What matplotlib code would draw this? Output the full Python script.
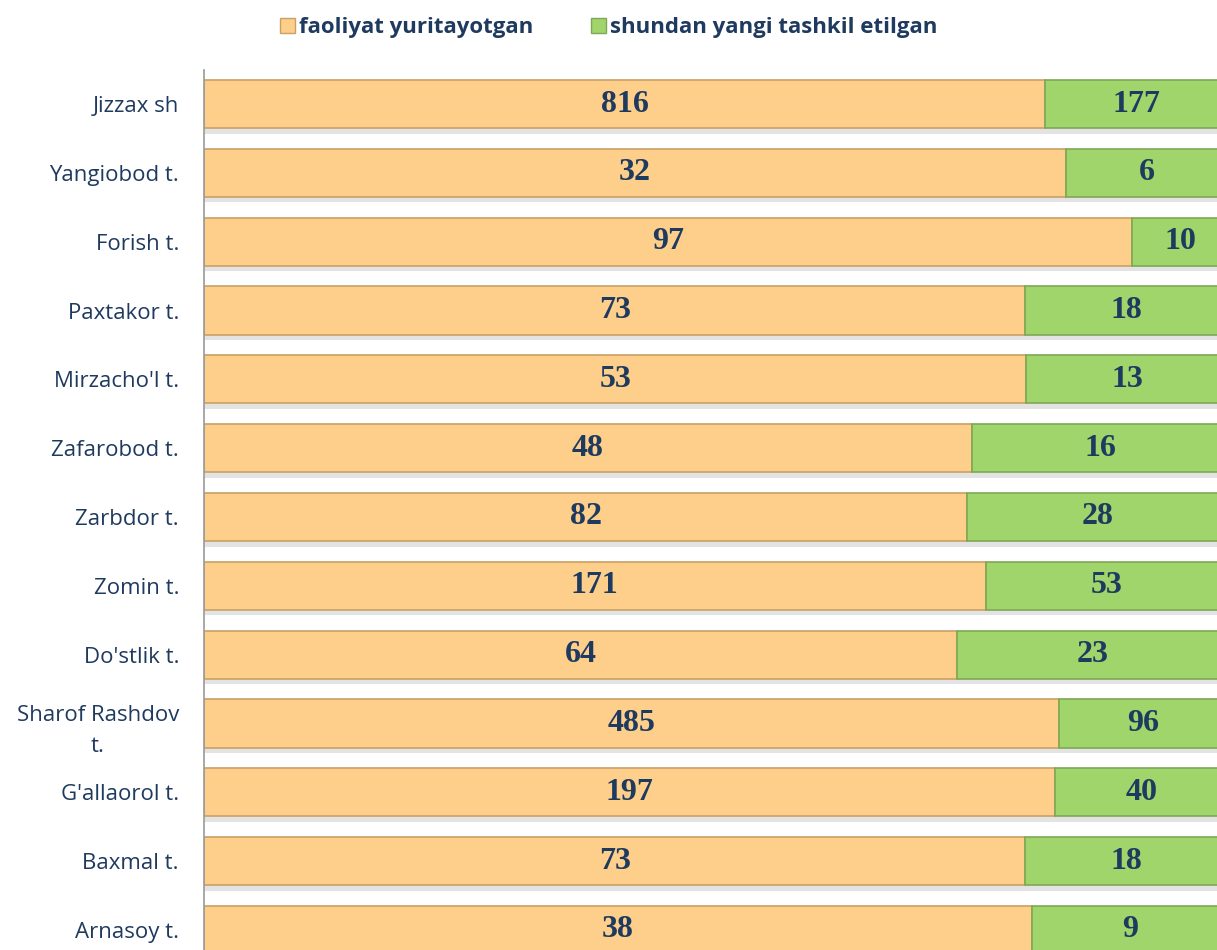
import matplotlib.pyplot as plt
import matplotlib.patheffects as pe
from matplotlib.patches import Patch

W, H = 1217, 950
DARK = "#1F3A5F"
ORANGE = "#FDCF8B"
ORANGE_EDGE = "#C9A066"
GREEN = "#A0D56C"
GREEN_EDGE = "#7FA854"

# ── Data (top to bottom as in the chart) ─────────────────────────────────────
districts = [
    "Jizzax sh", "Yangiobod t.", "Forish t.", "Paxtakor t.", "Mirzacho'l t.",
    "Zafarobod t.", "Zarbdor t.", "Zomin t.", "Do'stlik t.",
    "Sharof Rashdov\nt.", "G'allaorol t.", "Baxmal t.", "Arnasoy t.",
]
active = [816, 32, 97, 73, 53, 48, 82, 171, 64, 485, 197, 73, 38]
new = [177, 6, 10, 18, 13, 16, 28, 53, 23, 96, 40, 18, 9]
series_names = ["faoliyat yuritayotgan", "shundan yangi tashkil etilgan"]

totals = [a + n for a, n in zip(active, new)]
share_a = [a / t for a, t in zip(active, totals)]
share_n = [n / t for n, t in zip(new, totals)]
ypos = list(range(len(districts)))[::-1]

fig = plt.figure(figsize=(W / 100, H / 100), dpi=100)
fig.patch.set_facecolor("white")
ax = fig.add_axes([204 / W, -14.4 / H, 1024 / W, (964.4 - 69.6) / H])

shadow = [pe.SimplePatchShadow(offset=(0, -4), alpha=0.22, shadow_rgbFace="#808080"),
          pe.Normal()]

bars_a = ax.barh(ypos, share_a, height=0.70, color=ORANGE,
                 edgecolor=ORANGE_EDGE, linewidth=1.2)
bars_n = ax.barh(ypos, share_n, left=share_a, height=0.70, color=GREEN,
                 edgecolor=GREEN_EDGE, linewidth=1.2)
for b in list(bars_a) + list(bars_n):
    b.set_path_effects(shadow)

for bars, vals in ((bars_a, active), (bars_n, new)):
    ax.bar_label(bars, labels=[str(v) for v in vals], label_type="center",
                 fontsize=23, fontweight="bold", family="Liberation Serif",
                 color=DARK)

ax.set_xlim(0, 1)
ax.set_ylim(-0.5, len(districts) - 0.5)
ax.set_yticks(ypos)
ax.set_yticklabels(districts, fontsize=16, family="Open Sans", color=DARK,
                   linespacing=1.6)
for lbl in ax.get_yticklabels():
    lbl.set_multialignment("center")
ax.tick_params(axis="y", length=0, pad=18)
ax.set_xticks([])
for side in ("top", "right", "bottom"):
    ax.spines[side].set_visible(False)
ax.spines["left"].set_color("#9A9A9A")
ax.spines["left"].set_linewidth(1.2)

handles = [Patch(facecolor=ORANGE, edgecolor=ORANGE_EDGE),
           Patch(facecolor=GREEN, edgecolor=GREEN_EDGE)]
fig.legend(handles, series_names, loc="center", bbox_to_anchor=(609 / W, 1 - 28 / H),
           ncol=2, frameon=False, handlelength=0.65, handleheight=0.65,
           handletextpad=0.2, columnspacing=2.6,
           prop={"family": "Open Sans", "weight": "bold", "size": 16},
           labelcolor=DARK)

fig.savefig("out.png", dpi=100, facecolor="white")
